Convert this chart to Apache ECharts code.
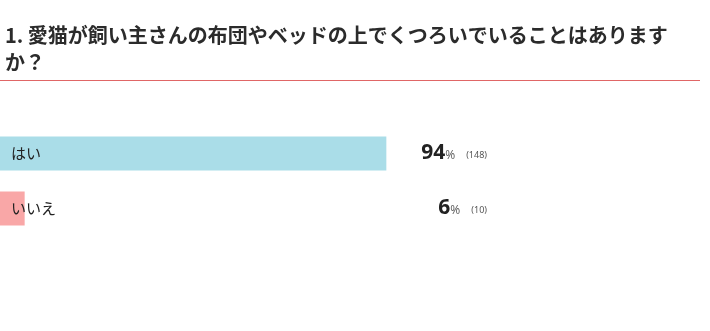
<!DOCTYPE html>
<html>
<head>
<meta charset="utf-8">
<script src="https://cdn.jsdelivr.net/npm/echarts@6/dist/echarts.min.js"></script>
<style>
  html, body { margin: 0; padding: 0; background: #fff; }
  #chart { width: 710px; height: 331px; }
</style>
</head>
<body>
<div id="chart"></div>
<script>
const titleText = '1. 愛猫が飼い主さんの布団やベッドの上でくつろいでいることはあります\nか？';
const categories = ['はい', 'いいえ'];
const percents = [94, 6];
const counts = [148, 10];
const barColors = ['#aadde8', '#f9a7a7'];

const chart = echarts.init(document.getElementById('chart'));

const option = {
    animation: false,
    textStyle: { fontFamily: '"Noto Sans CJK JP", "Noto Sans", sans-serif' },
    title: {
        text: titleText,
        left: 0,
        top: 17,
        textStyle: {
            fontSize: 20,
            fontWeight: 'bold',
            color: '#2b2b2b',
            lineHeight: 27,
            fontFamily: '"Noto Sans CJK JP", sans-serif'
        }
    },
    graphic: [{
        type: 'line',
        shape: { x1: 0, y1: 80.5, x2: 700, y2: 80.5 },
        style: { stroke: '#e06666', lineWidth: 1 }
    }],
    grid: {
        left: 0,
        top: 126,
        width: 411,
        height: 110,
        containLabel: false
    },
    xAxis: {
        type: 'value',
        min: 0,
        max: 100,
        show: false
    },
    yAxis: [{
        type: 'category',
        data: categories,
        inverse: true,
        axisLine: { show: false },
        axisTick: { show: false },
        axisLabel: {
            inside: true,
            margin: 11,
            fontSize: 15,
            color: '#222',
            padding: [0, 0, 4, 0]
        },
        z: 10
    }, {
        type: 'category',
        data: categories,
        inverse: true,
        position: 'right',
        axisLine: { show: false },
        axisTick: { show: false },
        axisLabel: {
            margin: 76,
            align: 'right',
            formatter: (v, i) => '{big|' + percents[i] + '}{pct|%}{cnt|(' + counts[i] + ')}',
            rich: {
                big: { fontSize: 21, fontWeight: 'bold', color: '#222', fontFamily: '"Noto Sans", sans-serif' },
                pct: { fontSize: 12, color: '#666', padding: [4, 11, 0, 0], fontFamily: '"Noto Sans", sans-serif' },
                cnt: { fontSize: 9, color: '#555', padding: [4, 0, 0, 0], fontFamily: '"Noto Sans", sans-serif' }
            }
        }
    }],
    series: [{
        type: 'bar',
        data: percents.map((v, i) => ({ value: v, itemStyle: { color: barColors[i] } })),
        barWidth: 34,
        yAxisIndex: 0
    }]
};

chart.setOption(option);
</script>
</body>
</html>
